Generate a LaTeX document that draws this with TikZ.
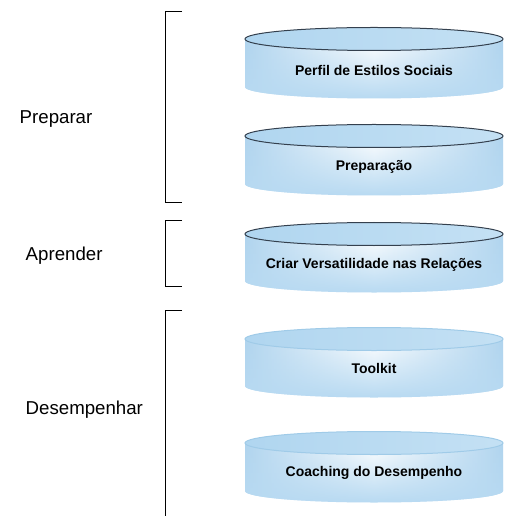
\documentclass[tikz,border=0pt]{standalone}
\usepackage{fontspec}
\setmainfont{Liberation Sans}
\usepackage{tikz}
\usetikzlibrary{fadings}
\usepackage{xcolor}

\definecolor{canedge}{RGB}{176,212,238}
\definecolor{canband}{RGB}{184,218,242}
\definecolor{cantopblue}{RGB}{176,214,240}
\definecolor{canrim}{RGB}{52,64,78}
\definecolor{canrimlight}{RGB}{160,203,232}

% yscale=-1 turns the fading upside down: north here means opaque at the top
\tikzset{
  canbody/.style={left color=canedge, right color=canedge, middle color=white},
  canshade/.style={fill=canband, path fading=north},
  cantop/.style={draw=canrim, line width=0.75pt, left color=cantopblue!85!canedge, right color=cantopblue!75!white},
  cantoplight/.style={draw=canrimlight, line width=0.75pt, left color=cantopblue!85!canedge, right color=cantopblue!75!white},
  cantext/.style={font=\fontsize{10.5}{12}\selectfont\bfseries},
  phasetext/.style={anchor=west, font=\fontsize{14}{16}\selectfont},
  bracketline/.style={line width=0.75pt}
}

\begin{document}
\begin{tikzpicture}[x=0.75pt,y=0.75pt,yscale=-1,xscale=1]
    \useasboundingbox (0,0) rectangle (504,516);
    \clip (0,0) rectangle (504,516);

    %Brackets
    \draw [bracketline] (182,12) -- (165,12) -- (165,203) -- (182,203) ;
    \draw [bracketline] (182,221) -- (165,221) -- (165,286) -- (182,286) ;
    \draw [bracketline] (182,310) -- (165,310) -- (165,520) ;

    % Text Node
    \node [phasetext] (preparar) at (15,119) {Preparar};
    % Text Node
    \node [phasetext] (aprender) at (21,256) {Aprender};
    % Text Node
    \node [phasetext] (desempenhar) at (21,410) {Desempenhar};

    %Shape: Can [perfil]
    \path [canbody] (245,39) -- (245,87) arc [start angle=180, end angle=0, x radius=129, y radius=11.5] -- (503,39) -- cycle ;
    \path [canshade] (245,39) -- (245,87) arc [start angle=180, end angle=0, x radius=129, y radius=11.5] -- (503,39) -- cycle ;
    \draw [cantop] (374,39) ellipse [x radius=129, y radius=11.5] ;
    \node [cantext] (perfil) at (374,70) {Perfil de Estilos Sociais};

    %Shape: Can [preparacao]
    \path [canbody] (245,136) -- (245,184) arc [start angle=180, end angle=0, x radius=129, y radius=11.5] -- (503,136) -- cycle ;
    \path [canshade] (245,136) -- (245,184) arc [start angle=180, end angle=0, x radius=129, y radius=11.5] -- (503,136) -- cycle ;
    \draw [cantop] (374,136) ellipse [x radius=129, y radius=11.5] ;
    \node [cantext] (preparacao) at (374,167) {Preparação};

    %Shape: Can [versatilidade]
    \path [canbody] (245,234) -- (245,281) arc [start angle=180, end angle=0, x radius=129, y radius=11.5] -- (503,234) -- cycle ;
    \path [canshade] (245,234) -- (245,281) arc [start angle=180, end angle=0, x radius=129, y radius=11.5] -- (503,234) -- cycle ;
    \draw [cantop] (374,234) ellipse [x radius=129, y radius=11.5] ;
    \node [cantext] (versatilidade) at (374,265) {Criar Versatilidade nas Relações};

    %Shape: Can [toolkit]
    \path [canbody] (245,339) -- (245,386) arc [start angle=180, end angle=0, x radius=129, y radius=11.5] -- (503,339) -- cycle ;
    \path [canshade] (245,339) -- (245,386) arc [start angle=180, end angle=0, x radius=129, y radius=11.5] -- (503,339) -- cycle ;
    \draw [cantoplight] (374,339) ellipse [x radius=129, y radius=11.5] ;
    \node [cantext] (toolkit) at (374,368) {Toolkit};

    %Shape: Can [coaching]
    \path [canbody] (245,443) -- (245,491) arc [start angle=180, end angle=0, x radius=129, y radius=11.5] -- (503,443) -- cycle ;
    \path [canshade] (245,443) -- (245,491) arc [start angle=180, end angle=0, x radius=129, y radius=11.5] -- (503,443) -- cycle ;
    \draw [cantoplight] (374,443) ellipse [x radius=129, y radius=11.5] ;
    \node [cantext] (coaching) at (374,473) {Coaching do Desempenho};

\end{tikzpicture}
\end{document}
